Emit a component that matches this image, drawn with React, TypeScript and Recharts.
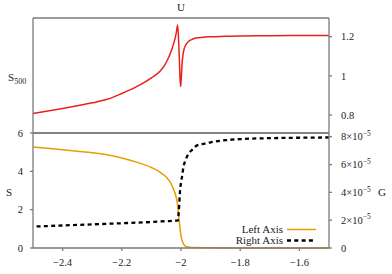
import { LineChart, Line, XAxis, YAxis, Legend } from 'recharts';

// top panel: U (S_500) vs x
const uX = [-2.5, -2.45, -2.4, -2.35, -2.3, -2.25, -2.2, -2.15, -2.1, -2.07, -2.055, -2.04, -2.03, -2.022, -2.016, -2.0112, -2.008, -2.005, -2.003, -2.001, -1.999, -1.996, -1.992, -1.985, -1.975, -1.96, -1.94, -1.9, -1.85, -1.8, -1.7, -1.6, -1.5];
const uY = [0.808, 0.82, 0.833, 0.847, 0.862, 0.88, 0.91, 0.945, 0.99, 1.025, 1.055, 1.1, 1.14, 1.18, 1.22, 1.26, 1.18, 1.06, 0.98, 0.945, 0.99, 1.07, 1.12, 1.155, 1.175, 1.188, 1.195, 1.2, 1.202, 1.204, 1.205, 1.206, 1.206];

// bottom panel: S (left axis)
const sX = [-2.5, -2.45, -2.4, -2.35, -2.3, -2.25, -2.2, -2.15, -2.1, -2.07, -2.05, -2.035, -2.025, -2.018, -2.012, -2.009, -2.006, -2.003, -2.0, -1.996, -1.992, -1.985, -1.975, -1.96, -1.9, -1.7, -1.5];
const sY = [5.27, 5.2, 5.13, 5.05, 4.97, 4.86, 4.7, 4.48, 4.2, 3.95, 3.7, 3.4, 3.05, 2.75, 2.3, 1.85, 1.4, 1.0, 0.65, 0.38, 0.22, 0.1, 0.05, 0.02, 0.01, 0.004, 0.002];

// bottom panel: G (right axis)
const gX = [-2.488, -2.4, -2.3, -2.2, -2.1, -2.05, -2.02, -2.01, -2.008, -2.006, -2.004, -2.0, -1.996, -1.992, -1.985, -1.975, -1.96, -1.947, -1.92, -1.9, -1.85, -1.8, -1.7, -1.6, -1.5];
const gY = [1.55e-5, 1.62e-5, 1.7e-5, 1.78e-5, 1.87e-5, 1.93e-5, 1.96e-5, 1.98e-5, 2.5e-5, 3.1e-5, 3.9e-5, 4.7e-5, 5.2e-5, 5.8e-5, 6.3e-5, 6.76e-5, 7.1e-5, 7.36e-5, 7.5e-5, 7.6e-5, 7.75e-5, 7.83e-5, 7.9e-5, 7.93e-5, 7.95e-5];

const xTicks = [-2.4, -2.2, -2, -1.8, -1.6];
const uTicks = [0.8, 1, 1.2];
const sTicks = [0, 2, 4, 6];
const gTicks = [0, 2e-5, 4e-5, 6e-5, 8e-5];

const uData = uX.map((x, i) => ({ x, u: uY[i] }));
const sData = sX.map((x, i) => ({ x, s: sY[i] }));
const gData = gX.map((x, i) => ({ x, g: gY[i] }));

const FONT = 'Liberation Serif, Times New Roman, serif';
const GRAY = '#7a7a7a';
const frame = { stroke: GRAY, strokeWidth: 1.3 };
const tickStyle = { fontFamily: FONT, fontSize: 10.5, fill: '#222' };
const X_DOMAIN: [number, number] = [-2.5, -1.5];

const minus = (v: number) => String(v).replace('-', '\u2212');

function GTick({ x, y, payload }: any) {
  const v = payload.value;
  if (v === 0) {
    return <text x={x} y={y} dy="0.355em" textAnchor="start" {...tickStyle}>0</text>;
  }
  const m = Math.round(v / 1e-5);
  return (
    <text x={x} y={y} dy="0.355em" textAnchor="start" {...tickStyle}>
      {`${m}\u00d710`}
      <tspan dy={-4.5} fontSize={7.5}>{'\u22125'}</tspan>
    </text>
  );
}

function LegendBox() {
  const rows = [
    { name: 'Left Axis', color: '#e69f00', dash: undefined, width: 1.5 },
    { name: 'Right Axis', color: '#000', dash: '4 3.3', width: 2.3 },
  ];
  return (
    <div style={{ fontFamily: FONT, fontSize: 11, color: '#222' }}>
      {rows.map((r) => (
        <div key={r.name} style={{ display: 'flex', justifyContent: 'flex-end', alignItems: 'center', height: 11 }}>
          <span style={{ lineHeight: '11px' }}>{r.name}</span>
          <svg width={34} height={11} style={{ marginLeft: 3 }}>
            <line x1={1} x2={30} y1={5.5} y2={5.5} stroke={r.color} strokeWidth={r.width} strokeDasharray={r.dash} />
          </svg>
        </div>
      ))}
    </div>
  );
}

export default function App() {
  return (
    <div style={{ position: 'absolute', left: 0, top: 0, width: 392, height: 274, background: '#fff' }}>
      <div style={{ position: 'absolute', left: 0, top: 0 }}>
        <LineChart width={392} height={140} margin={{ top: 17, right: 0, bottom: 6, left: 32 }}>
          <XAxis xAxisId="b" type="number" dataKey="x" domain={X_DOMAIN} ticks={xTicks} tick={false} tickLine={false} height={1} axisLine={frame} />
          <XAxis xAxisId="t" orientation="top" type="number" dataKey="x" domain={X_DOMAIN} ticks={xTicks} tick={false} tickLine={false} height={1} axisLine={frame} />
          <YAxis yAxisId="l" type="number" domain={[0.708, 1.2955]} ticks={uTicks} width={1} tick={false} tickLine={false} axisLine={frame} />
          <YAxis yAxisId="r" orientation="right" type="number" domain={[0.708, 1.2955]} ticks={uTicks} width={63}
            tickSize={3} tickMargin={9} tickLine={frame} axisLine={frame} tick={tickStyle} />
          <Line xAxisId="b" yAxisId="r" data={uData} dataKey="u" type="monotone" stroke="#e8211c" strokeWidth={1.5} dot={false} isAnimationActive={false} />
        </LineChart>
      </div>
      <div style={{ position: 'absolute', left: 0, top: 120 }}>
        <LineChart width={392} height={154} margin={{ top: 12, right: 0, bottom: 6, left: 0 }}>
          <XAxis xAxisId="b" type="number" dataKey="x" domain={X_DOMAIN} ticks={xTicks} height={20}
            tickSize={3} tickMargin={8} tickLine={frame} axisLine={frame} tick={tickStyle} tickFormatter={minus} />
          <XAxis xAxisId="t" orientation="top" type="number" dataKey="x" domain={X_DOMAIN} ticks={xTicks} tick={false} tickLine={false} height={1} axisLine={frame} />
          <YAxis yAxisId="l" type="number" domain={[0, 6]} ticks={sTicks} width={33}
            tickSize={3} tickMargin={7} tickLine={frame} axisLine={frame} tick={tickStyle} />
          <YAxis yAxisId="r" orientation="right" type="number" domain={[0, 8.27e-5]} ticks={gTicks} width={63}
            tickSize={3} tickMargin={9} tickLine={frame} axisLine={frame} tick={<GTick />} />
          <Line xAxisId="b" yAxisId="l" data={sData} dataKey="s" name="Left Axis" type="monotone" stroke="#e69f00" strokeWidth={1.5} dot={false} isAnimationActive={false} />
          <Line xAxisId="b" yAxisId="r" data={gData} dataKey="g" name="Right Axis" type="monotone" stroke="#000" strokeWidth={2.3} strokeDasharray="4 3.3" dot={false} isAnimationActive={false} />
          <Legend layout="vertical" align="center" verticalAlign="middle" content={<LegendBox />}
            wrapperStyle={{ left: 180, top: 103.5, width: 140 }} />
        </LineChart>
      </div>
      <svg width={392} height={274} style={{ position: 'absolute', left: 0, top: 0, pointerEvents: 'none' }}>
        <g fontFamily={FONT} fill="#222">
          <text x={181} y={7} fontSize={11} textAnchor="middle" dominantBaseline="central">U</text>
          <text x={8} y={77} fontSize={11} dominantBaseline="central">
            S<tspan dy={3.5} fontSize={8}>500</tspan>
          </text>
          <text x={6} y={191.5} fontSize={11} dominantBaseline="central">S</text>
          <text x={378} y={191.5} fontSize={11} dominantBaseline="central">G</text>
        </g>
      </svg>
    </div>
  );
}
